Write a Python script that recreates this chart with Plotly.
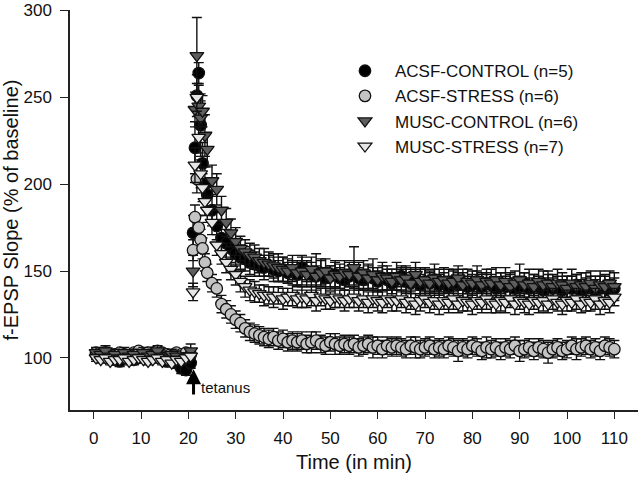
import plotly.graph_objects as go

# ---- time axis (min) ----
T_BASE = [0.5, 1.5, 2.5, 3.5, 4.5, 5.5, 6.5, 7.5, 8.5, 9.5, 10.5, 11.5, 12.5, 13.5,
          14.5, 15.5, 16.5, 17.5, 18.5, 19.5, 20.5]
T_EARLY = [21.0, 21.4, 21.8, 22.2, 22.6, 23.0, 23.5]
T_LATE = list(range(24, 111))
TIME = T_BASE + T_EARLY + T_LATE

# ---- ACSF-CONTROL ----
ac_val = [102, 101, 103, 100, 99, 98, 101, 100, 99, 102, 101, 100, 103, 101, 100, 98, 99, 97, 94, 93, 97,
          172, 221, 251, 264, 234, 212, 200,
          194, 185, 176, 169, 166, 163, 160, 158, 157, 155,
          154, 153, 152, 153, 151, 150, 151, 149, 150, 148,
          152, 150, 148, 147, 149, 146, 147, 148, 146, 145,
          147, 149, 146, 145, 147, 146, 144, 146, 145, 143,
          145, 147, 144, 143, 145, 142, 144, 143, 145, 142,
          143, 141, 144, 142, 143, 141, 142, 144, 141, 143,
          142, 140, 143, 141, 142, 140, 141, 143, 140, 142,
          141, 139, 142, 140, 141, 139, 141, 140, 142, 139,
          140, 141, 139, 140, 141, 139, 140]
ac_err = [3, 3, 3, 3, 3, 3, 3, 3, 3, 3, 3, 3, 3, 3, 3, 3, 3, 3, 3, 3, 3,
          10, 15, 12, 6, 18, 12, 10,
          9, 9, 8, 8, 8, 8, 7, 7, 7, 7,
          7, 6, 7, 6, 7, 6, 7, 6, 6, 7,
          7, 6, 7, 6, 7, 6, 6, 7, 6, 6,
          6, 7, 6, 6, 7, 6, 6, 7, 6, 6,
          6, 6, 7, 6, 6, 6, 7, 6, 6, 6,
          6, 6, 6, 7, 6, 6, 6, 6, 7, 6,
          6, 6, 6, 6, 7, 6, 6, 6, 6, 6,
          6, 7, 6, 6, 6, 6, 6, 7, 6, 6,
          6, 6, 6, 7, 6, 6, 6]

# ---- ACSF-STRESS ----
as_val = [103, 102, 103, 101, 102, 103, 102, 101, 103, 104, 102, 103, 102, 104, 103, 102, 101, 103, 102, 103, 102,
          162, 181, 203, 175, 168, 163, 155,
          149, 143, 140, 131, 128, 125, 122, 120, 117, 115,
          114, 113, 112, 111, 112, 110, 111, 109, 110, 109,
          110, 108, 109, 110, 108, 107, 109, 108, 107, 108,
          107, 108, 106, 107, 108, 106, 107, 105, 107, 106,
          107, 106, 105, 107, 106, 105, 106, 107, 105, 106,
          105, 107, 106, 104, 106, 105, 107, 106, 104, 106,
          105, 106, 104, 106, 105, 107, 104, 105, 106, 104,
          106, 105, 103, 105, 106, 104, 105, 107, 105, 106,
          107, 105, 106, 104, 107, 106, 105]
as_err = [2, 2, 2, 2, 2, 2, 2, 2, 2, 2, 2, 2, 2, 2, 2, 2, 2, 2, 2, 2, 2,
          6, 7, 8, 7, 6, 6, 5,
          5, 5, 5, 5, 5, 5, 5, 5, 5, 5,
          5, 5, 5, 5, 5, 5, 5, 5, 5, 5,
          5, 5, 6, 5, 5, 5, 5, 6, 5, 5,
          5, 5, 5, 5, 5, 6, 5, 5, 5, 5,
          5, 5, 5, 5, 6, 5, 5, 5, 5, 5,
          5, 5, 5, 6, 5, 5, 5, 5, 5, 6,
          5, 5, 5, 5, 5, 5, 6, 5, 5, 5,
          5, 5, 6, 5, 5, 5, 5, 5, 6, 5,
          5, 5, 5, 5, 5, 5, 5]

# ---- MUSC-CONTROL ----
mc_val = [103, 102, 104, 101, 102, 100, 103, 101, 102, 100, 103, 101, 102, 104, 101, 100, 102, 101, 99, 100, 104,
          150, 243, 274, 245, 238, 242, 228,
          220, 202, 197, 185, 178, 172, 167, 163, 161, 159,
          158, 156, 155, 154, 153, 152, 151, 150, 152, 149,
          150, 148, 151, 147, 149, 150, 146, 148, 147, 149,
          148, 152, 147, 149, 146, 148, 145, 147, 146, 144,
          147, 145, 146, 143, 148, 144, 145, 143, 146, 144,
          145, 143, 144, 146, 142, 144, 143, 145, 142, 144,
          143, 145, 142, 144, 141, 143, 145, 142, 143, 141,
          144, 142, 143, 141, 143, 142, 140, 143, 141, 142,
          141, 143, 140, 142, 141, 143, 141]
mc_err = [3, 3, 3, 3, 3, 3, 3, 3, 3, 3, 3, 3, 3, 3, 3, 3, 3, 3, 3, 3, 4,
          9, 10, 22, 12, 10, 9, 12,
          10, 9, 9, 8, 8, 8, 8, 7, 7, 7,
          7, 7, 8, 7, 7, 8, 7, 7, 7, 7,
          8, 7, 7, 13, 8, 7, 7, 8, 7, 7,
          7, 12, 8, 7, 7, 9, 7, 8, 7, 7,
          8, 7, 7, 9, 7, 8, 7, 7, 8, 7,
          7, 8, 7, 7, 9, 7, 7, 8, 7, 7,
          8, 7, 7, 8, 7, 7, 9, 7, 8, 7,
          7, 8, 7, 7, 8, 7, 7, 8, 7, 7,
          8, 7, 7, 8, 7, 7, 8]

# ---- MUSC-STRESS ----
ms_val = [100, 99, 100, 98, 99, 99, 100, 98, 99, 100, 99, 98, 99, 100, 98, 99, 97, 99, 98, 100, 101,
          138, 211, 250, 227, 206, 198, 190,
          185, 178, 165, 160, 155, 151, 148, 144, 141, 139,
          138, 137, 136, 136, 135, 136, 134, 135, 136, 134,
          135, 134, 136, 133, 135, 134, 133, 135, 134, 133,
          134, 135, 133, 134, 132, 134, 133, 132, 134, 133,
          133, 134, 132, 133, 131, 133, 134, 132, 133, 131,
          133, 132, 134, 131, 133, 132, 131, 133, 132, 134,
          132, 131, 133, 132, 134, 131, 133, 132, 131, 133,
          132, 133, 131, 134, 132, 131, 133, 132, 134, 131,
          133, 132, 134, 131, 133, 132, 135]
ms_err = [2, 2, 2, 2, 2, 2, 2, 2, 2, 2, 2, 2, 2, 2, 2, 2, 2, 2, 2, 2, 2,
          5, 10, 8, 9, 8, 8, 8,
          7, 7, 6, 6, 6, 6, 6, 6, 6, 6,
          6, 5, 6, 5, 6, 5, 6, 5, 6, 5,
          6, 5, 6, 6, 5, 6, 5, 6, 5, 6,
          5, 6, 6, 5, 6, 5, 6, 6, 5, 6,
          6, 5, 6, 5, 6, 6, 5, 6, 5, 6,
          5, 6, 6, 5, 6, 5, 6, 5, 6, 6,
          6, 5, 6, 6, 5, 6, 5, 6, 6, 5,
          6, 6, 5, 6, 5, 6, 6, 5, 6, 5,
          6, 5, 6, 6, 5, 6, 5]

NAMES = ["ACSF-CONTROL (n=5)", "ACSF-STRESS (n=6)", "MUSC-CONTROL (n=6)", "MUSC-STRESS (n=7)"]
X_TICKS = [0, 10, 20, 30, 40, 50, 60, 70, 80, 90, 100, 110]
Y_TICKS = [100, 150, 200, 250, 300]

FONT = "Liberation Sans, Arial, sans-serif"

series = [
    (NAMES[0], ac_val, ac_err, "circle", "#000000", 11.5),
    (NAMES[1], as_val, as_err, "circle", "#c4c4c4", 11.5),
    (NAMES[2], mc_val, mc_err, "triangle-down", "#5e5e5e", 12),
    (NAMES[3], ms_val, ms_err, "triangle-down", "#e6e6e6", 12),
]

fig = go.Figure()
for name, vals, errs, sym, col, sz in series:
    fig.add_trace(go.Scatter(
        x=TIME, y=vals, name=name, mode="markers", cliponaxis=False,
        marker=dict(symbol=sym, size=sz, color=col, line=dict(color="#111111", width=1.3)),
        error_y=dict(type="data", array=errs, symmetric=True, color="#111111", thickness=1.4, width=5),
    ))

fig.add_annotation(x=21.1, y=93.5, ax=21.1, ay=78, axref="x", ayref="y", xref="x", yref="y",
                   text="", showarrow=True, arrowhead=2, arrowsize=1, arrowwidth=3, arrowcolor="#000000")
fig.add_annotation(x=22.3, y=83, xref="x", yref="y", text="tetanus", showarrow=False,
                   xanchor="left", yanchor="middle", font=dict(family=FONT, size=15, color="#111111"))

fig.update_layout(
    width=640, height=482,
    margin=dict(l=70, r=2, t=10, b=72),
    plot_bgcolor="white", paper_bgcolor="white",
    font=dict(family=FONT, size=17, color="#111111"),
    showlegend=True,
    legend=dict(x=0.4665, y=0.892, xanchor="left", yanchor="top", bgcolor="rgba(0,0,0,0)",
                font=dict(family=FONT, size=17, color="#111111"), itemwidth=50, tracegroupgap=0),
    xaxis=dict(range=[-5, 115], tickvals=X_TICKS, ticks="outside", ticklen=7, tickwidth=1.3,
               tickcolor="#222", showline=True, linecolor="#222", linewidth=1.5, showgrid=False,
               zeroline=False, automargin=False,
               title=dict(text="Time (in min)", standoff=8),
               ticklabelstandoff=5),
    yaxis=dict(range=[70, 300.3], tickvals=Y_TICKS, ticks="outside", ticklen=8, tickwidth=1.3,
               tickcolor="#222", showline=True, linecolor="#222", linewidth=1.5, showgrid=False,
               zeroline=False, automargin=False, ticklabeloverflow="allow",
               title=dict(text="f-EPSP Slope (% of baseline)", standoff=4),
               ticklabelstandoff=5),
)

fig.write_html("out.html", config={"displayModeBar": False},
               post_script="document.body.style.margin='0';document.body.style.padding='0';")
